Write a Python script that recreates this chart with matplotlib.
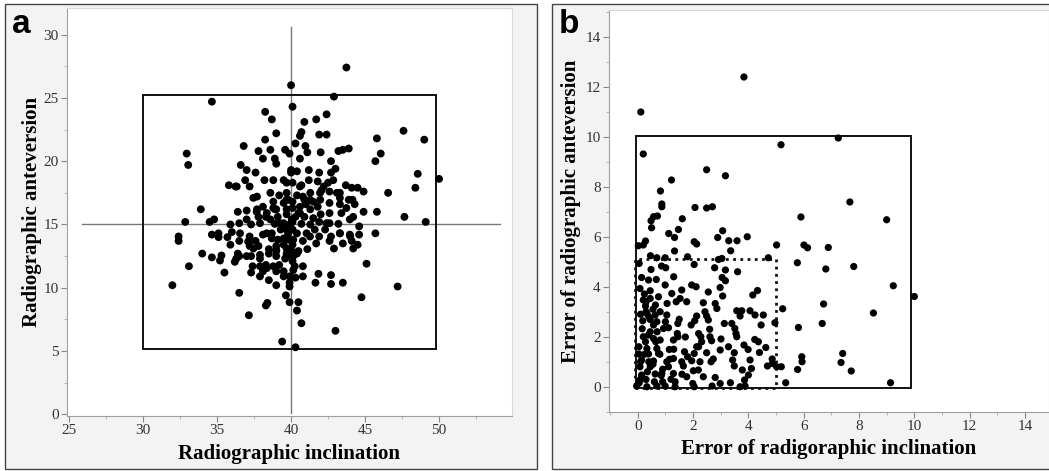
import numpy as np
import matplotlib
matplotlib.use('Agg')
import matplotlib.pyplot as plt
from matplotlib.patches import Rectangle
from matplotlib.ticker import MultipleLocator

# ---------------------------------- data -------------------------------------
# panel a : radiographic inclination / anteversion
incl = [43.74, 40.0, 42.9, 34.65, 40.1, 38.25, 38.7, 41.7, 42.4, 40.9, 40.7, 40.6,
        47.6, 39.0, 41.9, 42.4, 40.3, 38.25, 45.8, 49.0, 36.8, 40.97, 43.2, 43.5,
        43.9, 42.0, 41.1, 37.8, 38.6, 39.6, 39.9, 32.95, 46.06, 33.05, 45.7, 42.7,
        40.6, 38.1, 38.9, 36.6, 37.0, 37.6, 39.0, 40.0, 40.4, 41.2, 41.9, 42.7,
        43.0, 48.56, 50.0, 48.4, 46.56, 44.9, 44.1, 43.7, 36.9, 35.8, 36.25, 37.2,
        37.45, 37.7, 38.2, 38.8, 39.5, 39.7, 40.1, 40.7, 41.2, 41.8, 42.5, 42.85,
        42.6, 42.06, 41.3, 40.8, 40.4, 38.6, 39.2, 39.8, 43.1, 43.3, 44.15, 44.3,
        43.3, 41.97, 41.5, 41.8, 41.0, 40.6, 40.1, 39.5, 38.8, 38.1, 37.7, 37.0,
        36.4, 33.9, 45.8, 44.9, 43.74, 43.4, 42.6, 42.0, 41.5, 40.9, 40.3, 39.7,
        39.1, 38.3, 37.8, 47.66, 49.1, 43.97, 44.2, 32.85, 34.5, 34.8, 35.9, 36.5,
        37.0, 37.3, 37.9, 38.6, 38.9, 39.5, 39.9, 40.1, 40.7, 41.3, 41.9, 42.6,
        43.2, 44.6, 45.7, 44.6, 43.3, 42.7, 43.97, 44.1, 44.2, 44.5, 43.5, 42.9,
        42.6, 41.9, 41.7, 41.1, 40.8, 40.4, 40.1, 39.8, 39.5, 39.1, 38.7, 38.1,
        37.6, 37.2, 36.5, 36.0, 35.7, 34.65, 35.1, 35.1, 32.4, 32.4, 35.9, 37.2,
        37.45, 38.5, 39.0, 39.7, 40.0, 39.7, 40.15, 39.6, 39.0, 38.5, 37.9, 37.3,
        36.5, 36.4, 35.3, 34.65, 34.0, 35.2, 36.2, 36.3, 37.4, 37.9, 38.3, 38.8,
        39.2, 40.25, 40.1, 45.1, 33.1, 35.5, 37.3, 38.1, 39.0, 39.5, 37.9, 38.5,
        39.9, 40.3, 39.9, 39.9, 39.0, 41.85, 41.65, 42.7, 42.7, 43.5, 31.98, 47.2,
        36.5, 44.76, 39.65, 39.9, 40.5, 38.3, 38.4, 40.4, 40.7, 37.15, 43.0, 39.4,
        40.3, 40.0, 39.7, 40.1, 39.7, 39.85, 40.1, 40.5, 39.5, 39.3, 40.5, 40.6,
        40.9, 41.3, 41.6, 42.3, 41.05, 38.8, 39.0,
        36.33, 37.68, 38.36, 38.9, 39.7, 40.05, 39.7, 39.0, 39.0, 39.7, 40.15, 39.5,
        37.8, 37.9, 38.36, 36.55, 37.1, 37.0, 38.36, 38.7, 39.25, 40.15,
        40.6, 41.28, 41.96, 42.6, 43.3, 43.9, 44.5, 42.4, 43.3, 44.0, 41.28, 40.4,
        40.8, 40.8, 42.2]
antev = [27.4, 26.0, 25.1, 24.7, 24.3, 23.9, 23.3, 23.3, 23.7, 23.1, 22.3, 22.0,
         22.4, 22.2, 22.1, 22.1, 21.4, 21.7, 21.8, 21.7, 21.2, 21.2, 20.8, 20.9,
         21.0, 20.7, 20.7, 20.8, 20.9, 20.9, 20.6, 20.6, 20.6, 19.7, 20.0, 20.0,
         20.2, 20.2, 20.2, 19.7, 19.3, 19.1, 19.8, 19.3, 19.2, 19.3, 19.1, 19.1,
         19.4, 19.0, 18.6, 17.9, 17.5, 17.6, 17.9, 18.1, 18.5, 18.1, 18.0, 18.0,
         17.1, 17.2, 18.5, 18.5, 18.5, 18.3, 18.3, 18.1, 18.5, 18.4, 18.3, 18.5,
         17.6, 17.7, 17.5, 17.2, 17.3, 17.5, 17.3, 16.95, 17.5, 17.1, 16.95, 16.6,
         16.6, 16.95, 16.8, 16.4, 16.6, 16.4, 16.8, 16.7, 16.8, 16.4, 16.2, 16.1,
         16.0, 16.2, 16.0, 16.0, 16.3, 15.9, 15.9, 15.8, 15.5, 15.6, 15.6, 15.8,
         15.6, 15.6, 15.6, 15.6, 15.2, 15.4, 15.6, 15.2, 15.2, 15.4, 15.0, 15.1,
         15.4, 15.0, 15.1, 15.4, 15.05, 15.1, 15.0, 15.2, 15.05, 15.0, 15.2, 15.1,
         15.05, 14.85, 14.3, 14.2, 14.3, 14.05, 14.2, 13.7, 13.1, 13.4, 13.5, 13.1,
         13.7, 14.05, 13.5, 13.05, 13.7, 14.3, 14.6, 14.3, 13.9, 13.8, 14.3, 14.2,
         13.7, 14.05, 13.7, 14.4, 14.0, 14.2, 14.0, 14.3, 14.05, 13.7, 13.4, 13.3,
         13.1, 13.05, 13.0, 13.1, 13.0, 12.7, 12.5, 12.3, 12.5, 12.7, 12.6, 12.5,
         12.5, 12.7, 12.55, 12.4, 12.7, 12.15, 12.05, 12.3, 11.7, 11.7, 11.8, 11.7,
         11.8, 11.7, 12.1, 11.9, 11.7, 11.2, 11.2, 11.3, 11.3, 11.3, 10.9, 10.6,
         10.9, 10.8, 10.4, 10.1, 10.2, 11.1, 10.4, 11.0, 10.3, 10.4, 10.2, 10.1,
         9.6, 9.25, 9.4, 8.86, 8.86, 8.6, 8.8, 8.2, 7.2, 7.83, 6.6, 5.75,
         5.3, 19.1, 17.5, 16.3, 16.2, 13.8, 13.4, 12.9, 13.4, 14.6, 15.9, 18.0,
         16.95, 16.2, 14.6, 14.6, 14.3, 16.3, 16.2,
         18.0, 16.0, 15.9, 16.2, 16.95, 15.4, 14.6, 13.3, 12.9, 12.5, 11.4, 10.9,
         13.3, 12.3, 11.55, 14.3, 13.65, 12.5, 14.3, 13.9, 15.1, 13.8,
         15.9, 16.95, 17.5, 16.7, 17.5, 16.95, 17.9, 15.1, 14.3, 14.05, 14.05, 12.7,
         11.7, 10.9, 18.0]

# panel b : absolute errors
err_incl = [3.84, 0.11, 0.2, 5.18, 7.25, 2.49, 3.17, 1.22, 0.82, 0.87, 0.87, 2.07,
            2.49, 2.70, 7.67, 5.9, 9.0, 1.61, 0.48, 0.57, 0.71, 0.5, 1.47, 1.12,
            3.07, 3.96, 2.89, 1.33, 3.29, 3.59, 2.04, 2.13, 0.28, 0.02, 0.2, 5.02,
            6.01, 6.14, 6.89, 3.36, 1.33, 4.72, 0.46, 0.69, 0.99, 1.8, 2.92, 3.04,
            5.77, 0.05, 2.04, 2.78, 0.86, 1.01, 0.48, 3.17, 3.61, 6.8, 7.81, 0.14,
            0.39, 0.67, 1.30, 3.05, 3.17, 0.08, 0.45, 0.99, 1.95, 2.11, 2.98, 4.33,
            4.16, 9.24, 10.0, 0.24, 1.23, 1.59, 2.55, 3.07, 0.2, 0.45, 1.53, 1.77,
            2.37, 2.8, 1.39, 1.06, 0.28, 0.64, 5.24, 6.72, 8.52, 2.86, 3.58, 3.76,
            4.06, 4.24, 4.54, 2.43, 2.49, 2.13, 0.33, 0.63, 0.81, 1.05, 0.18, 0.45,
            0.69, 2.06, 2.55, 3.7, 0.16, 0.57, 0.93, 1.11, 1.45, 1.93, 3.13, 3.4,
            3.51, 4.46, 4.96, 6.67, 5.81, 1.43, 1.45, 2.2, 2.28, 2.61, 3.55, 3.58,
            1.72, 0.39, 0.57, 0.28, 0.81, 1.29, 2.31, 2.67, 3.01, 4.23, 4.36, 0.04,
            0.33, 0.69, 1.14, 2.13, 2.98, 3.28, 3.84, 3.99, 4.63, 4.4, 0.04, 0.39,
            0.75, 1.69, 2.04, 2.49, 3.49, 7.41, 5.93, 5.94, 7.35, 0.14, 0.57, 1.05,
            1.29, 1.59, 1.95, 2.25, 2.65, 2.73, 3.43, 4.06, 4.86, 4.87, 0.08, 0.45,
            1.11, 1.65, 2.01, 2.19, 3.49, 4.11, 4.69, 5.02, 5.19, 5.78, 3.78, 7.72,
            4.0, 0.14, 0.63, 0.87, 1.29, 1.77, 2.37, 2.8, 0.08, 0.3, 0.9, 1.35,
            1.99, 2.98, 3.35, 3.86, 5.35, 9.14, -0.04, 0.33, 0.69, 0.99, 1.35, 2.04,
            2.69, 3.7, 3.88,
            0.3, 0.4, 0.55, 0.7, 0.2, 0.1, 0.35, 0.55, 0.8, 0.25, 0.45, 0.65,
            0.15, 0.9, 1.2, 1.6, 1.0, 0.75, 0.3, 0.1, 1.3, 1.8, 2.2, 2.6,
            1.5, 0.6, 0.05, 0.4, 0.85, 1.15]
err_antev = [12.39, 10.99, 9.31, 9.68, 9.95, 8.68, 8.44, 8.27, 7.83, 7.31, 7.2, 7.17,
             7.15, 7.2, 7.39, 6.79, 6.68, 6.72, 6.64, 6.8, 6.83, 6.36, 6.29, 6.13,
             6.24, 6.0, 5.97, 5.97, 5.84, 5.84, 5.8, 5.71, 5.83, 5.64, 5.67, 5.67,
             5.67, 5.56, 5.57, 5.44, 5.43, 5.16, 5.24, 5.16, 5.16, 5.2, 5.09, 5.13,
             4.96, 4.93, 4.89, 4.76, 4.83, 4.76, 4.69, 4.67, 4.6, 4.71, 4.81, 4.37,
             4.27, 4.29, 4.4, 4.37, 4.24, 3.93, 3.84, 4.07, 4.07, 4.0, 3.97, 3.85,
             3.67, 4.04, 3.61, 3.71, 3.73, 3.87, 3.79, 3.63, 3.47, 3.53, 3.53, 3.4,
             3.36, 3.33, 3.4, 3.33, 3.23, 3.27, 3.12, 3.31, 2.95, 3.13, 3.04, 3.04,
             3.04, 2.87, 2.87, 3.0, 2.83, 2.83, 2.93, 2.87, 3.0, 2.87, 2.64, 2.69,
             2.6, 2.64, 2.67, 2.83, 2.32, 2.47, 2.33, 2.36, 2.53, 2.47, 2.53, 2.53,
             2.33, 2.47, 2.56, 2.53, 2.37, 2.13, 2.0, 2.13, 2.0, 2.0, 2.13, 2.0,
             1.99, 2.07, 1.93, 1.8, 1.87, 1.87, 1.8, 1.84, 1.91, 1.89, 1.8, 1.6,
             1.53, 1.53, 1.49, 1.6, 1.47, 1.6, 1.67, 1.49, 1.57, 1.37, 1.31, 1.31,
             1.33, 1.4, 1.33, 1.36, 1.36, 1.33, 1.2, 1.0, 0.97, 1.07, 1.03, 1.0,
             1.13, 1.0, 1.04, 1.0, 1.0, 1.11, 1.07, 1.07, 1.11, 0.93, 0.8, 0.8,
             0.8, 0.83, 0.64, 0.67, 0.83, 0.73, 0.83, 0.8, 0.8, 0.69, 0.67, 0.63,
             0.47, 0.47, 0.51, 0.53, 0.53, 0.4, 0.4, 0.37, 0.27, 0.29, 0.2, 0.2,
             0.13, 0.13, 0.16, 0.27, 0.16, 0.16, 0.03, 0.0, 0.03, 0.03, 0.0, 0.0,
             0.03, 0.0, 0.03,
             3.0, 2.8, 3.1, 2.2, 2.0, 1.0, 0.6, 0.9, 1.3, 1.3, 2.2, 1.8,
             0.4, 0.7, 0.3, 0.5, 2.6, 3.6, 3.4, 2.9, 1.5, 1.2, 1.6, 2.3,
             2.7, 0.2, 0.15, 1.0, 0.45, 1.1]

# ---------------------------------- figure -----------------------------------
plt.rcParams['font.family'] = ['Liberation Serif', 'DejaVu Serif']
W, H = 1049, 471
fig = plt.figure(figsize=(W / 100, H / 100), dpi=100)
fig.patch.set_facecolor('white')

# gray panel frames (drawn under the axes)
for x0, x1 in [(5, 537), (552, 1052)]:
    fig.patches.append(Rectangle((x0 / W, 1 - 469 / H), (x1 - x0) / W, 465 / H,
                                 transform=fig.transFigure, facecolor='#f3f3f3',
                                 edgecolor='#444444', lw=1.0, zorder=-10))


def style_axes(ax):
    ax.set_facecolor('white')
    for s in ['left', 'bottom']:
        ax.spines[s].set_color('#a0a0a0')
    for s in ['top', 'right']:
        ax.spines[s].set_color('#d8d8d8')
    ax.tick_params(which='major', direction='out', length=4, color='#888888',
                   labelsize=11, labelcolor='#333333', pad=2)
    ax.tick_params(which='minor', direction='out', length=2, color='#aaaaaa')
    ax.tick_params(axis='x', which='both', top=False)
    ax.tick_params(axis='y', which='both', right=False)


# ---- panel a
ax1 = fig.add_axes([67 / W, 1 - 416 / H, 445 / W, 408 / H])
style_axes(ax1)
ax1.set_xlim(24.86, 54.93)
ax1.set_ylim(-0.13, 32.1)
ax1.xaxis.set_minor_locator(MultipleLocator(2.5))
ax1.yaxis.set_minor_locator(MultipleLocator(2.5))
ax1.set_xticks([25, 30, 35, 40, 45, 50])
ax1.set_yticks([0, 5, 10, 15, 20, 25, 30])

ax1.plot([40, 40], [0.1, 30.6], color='#777777', lw=1, zorder=1)
ax1.plot([25.9, 54.1], [15, 15], color='#777777', lw=1, zorder=1)
ax1.add_patch(Rectangle((30.0, 5.19), 19.8, 20.07, fill=False, edgecolor='#111111',
                        lw=1.4, zorder=2))
ax1.scatter(incl, antev, s=32, color='black', edgecolors='none', zorder=3)
ax1.set_xlabel('Radiographic inclination', fontsize=15, fontweight='bold', labelpad=5)
ax1.set_ylabel('Radiographic anteversion', fontsize=15, fontweight='bold', labelpad=1)

# ---- panel b
ax2 = fig.add_axes([609 / W, 1 - 412 / H, 440 / W, 402 / H])
style_axes(ax2)
ax2.set_xlim(-1.04, 14.87)
ax2.set_ylim(-1.01, 15.07)
ax2.set_xticks(np.arange(0, 15, 2))
ax2.set_yticks(np.arange(0, 15, 2))
ax2.xaxis.set_minor_locator(MultipleLocator(1))
ax2.yaxis.set_minor_locator(MultipleLocator(1))

ax2.add_patch(Rectangle((-0.07, -0.03), 9.95, 10.06, fill=False, edgecolor='#111111',
                        lw=1.4, zorder=2))
ax2.add_patch(Rectangle((-0.1, -0.06), 5.1, 5.16, fill=False, edgecolor='#111111',
                        lw=2.0, linestyle=(0, (1, 1.6)), zorder=2))
ax2.scatter(err_incl, err_antev, s=27, color='black', edgecolors='none', zorder=3)
ax2.set_xlabel('Error of radigoraphic inclination', fontsize=15, fontweight='bold',
               labelpad=4)
ax2.set_ylabel('Error of radiographic anteversion', fontsize=15, fontweight='bold',
               labelpad=3)

# panel letters
fig.text(12 / W, 1 - 33 / H, 'a', fontsize=24, fontweight='bold',
         family=['Liberation Sans', 'DejaVu Sans'])
fig.text(559 / W, 1 - 33 / H, 'b', fontsize=24, fontweight='bold',
         family=['Liberation Sans', 'DejaVu Sans'])

fig.savefig('out.png', dpi=100)
